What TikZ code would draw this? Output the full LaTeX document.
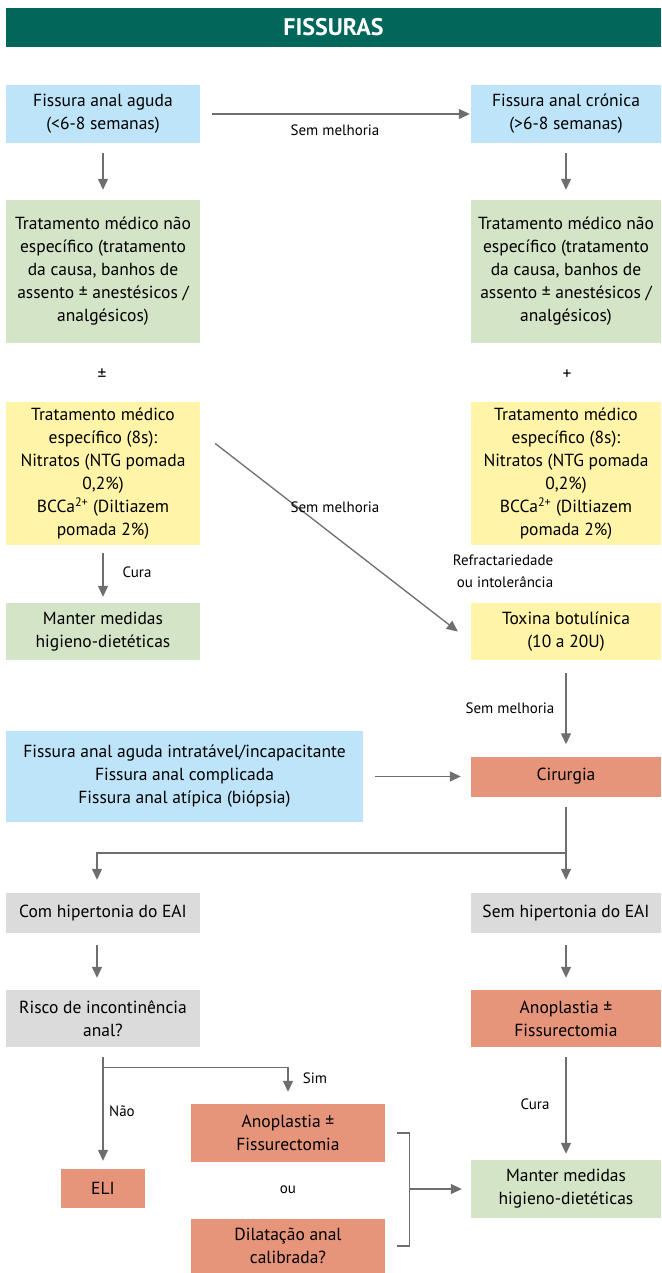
\documentclass[tikz,border=0pt]{standalone}
\usepackage{fontspec}
\setmainfont{PT Sans}
\usetikzlibrary{arrows.meta}
\definecolor{cteal}{HTML}{01675A}
\definecolor{cblue}{HTML}{BDE4F8}
\definecolor{cgreen}{HTML}{D4E4C6}
\definecolor{cyellow}{HTML}{FFF4A8}
\definecolor{csalmon}{HTML}{E6957A}
\definecolor{cgray}{HTML}{DBDBDB}
\definecolor{carrow}{HTML}{6E6E6E}
\begin{document}
\begin{tikzpicture}[x=1pt,y=-1pt,
  box/.style={rectangle, inner sep=0pt, align=center, font=\fontsize{17.5}{23}\selectfont, text=black},
  lbl/.style={inner sep=0pt, align=center, font=\fontsize{15}{22}\selectfont, text=black},
  arr/.style={draw=carrow, line width=1.3pt, -{Triangle[length=11pt,width=10pt]}},
  ln/.style={draw=carrow, line width=1.3pt}]
\useasboundingbox (0,0) rectangle (661,1273);
\fill[white] (0,0) rectangle (661,1273);

\node[rectangle, fill=cteal, minimum width=655pt, minimum height=39pt, inner sep=0pt,
  text=white, font=\bfseries\fontsize{24}{28}\selectfont] (title) at (333.5,27.5) {FISSURAS};

\node[box, fill=cblue, minimum width=194pt, minimum height=58pt] (a1) at (103,114) {Fissura anal aguda\\(<6-8 semanas)};
\node[box, fill=cblue, minimum width=190pt, minimum height=58pt] (b1) at (566,114) {Fissura anal crónica\\(>6-8 semanas)};

\node[box, fill=cgreen, minimum width=194pt, minimum height=143pt] (a2) at (103,271.5) {Tratamento médico não\\específico (tratamento\\da causa, banhos de\\assento ± anestésicos /\\analgésicos)};
\node[box, fill=cgreen, minimum width=190pt, minimum height=143pt] (b2) at (566,271.5) {Tratamento médico não\\específico (tratamento\\da causa, banhos de\\assento ± anestésicos /\\analgésicos)};

\node[box] (pm) at (102,375) {±};
\node[box] (plus) at (567,375) {+};

\node[box, fill=cyellow, minimum width=194pt, minimum height=143pt] (a3) at (103,473.5) {Tratamento médico\\específico (8s):\\Nitratos (NTG pomada\\0,2\%)\\BCCa\textsuperscript{2+} (Diltiazem\\pomada 2\%)};
\node[box, fill=cyellow, minimum width=190pt, minimum height=143pt] (b3) at (566,473.5) {Tratamento médico\\específico (8s):\\Nitratos (NTG pomada\\0,2\%)\\BCCa\textsuperscript{2+} (Diltiazem\\pomada 2\%)};

\node[box, fill=cgreen, minimum width=194pt, minimum height=57pt] (a4) at (103,631.5) {Manter medidas\\higieno-dietéticas};
\node[box, fill=cyellow, minimum width=190pt, minimum height=57pt] (b4) at (566,631.5) {Toxina botulínica\\(10 a 20U)};

\node[box, fill=cblue, minimum width=357pt, minimum height=91pt] (big) at (184.5,776.5) {Fissura anal aguda intratável/incapacitante\\Fissura anal complicada\\Fissura anal atípica (biópsia)};
\node[box, fill=csalmon, minimum width=190pt, minimum height=40pt] (cir) at (566,776.5) {Cirurgia};

\node[box, fill=cgray, minimum width=194pt, minimum height=40pt] (com) at (103,913) {Com hipertonia do EAI};
\node[box, fill=cgray, minimum width=190pt, minimum height=40pt] (sem) at (566,913) {Sem hipertonia do EAI};

\node[box, fill=cgray, minimum width=194pt, minimum height=57pt] (ris) at (103,1018.5) {Risco de incontinência\\anal?};
\node[box, fill=csalmon, minimum width=190pt, minimum height=57pt] (anoR) at (566,1018.5) {Anoplastia ±\\Fissurectomia};

\node[box, fill=csalmon, minimum width=84pt, minimum height=39pt] (eli) at (103,1188.5) {ELI};
\node[box, fill=csalmon, minimum width=194pt, minimum height=58pt] (anoL) at (288,1133) {Anoplastia ±\\Fissurectomia};
\node[lbl] (ou) at (288,1190) {ou};
\node[box, fill=csalmon, minimum width=194pt, minimum height=54pt] (dil) at (288,1246) {Dilatação anal\\calibrada?};
\node[box, fill=cgreen, minimum width=190pt, minimum height=58pt] (manR) at (566,1189) {Manter medidas\\higieno-dietéticas};

% connectors
\draw[arr] ([xshift=12pt]a1.east) -- ([xshift=-1pt]b1.west);
\node[lbl] (l1) at (335,130) {Sem melhoria};
\draw[arr] ([yshift=-10pt]a1.south) -- ([yshift=10pt]a2.north);
\draw[arr] ([yshift=-10pt]b1.south) -- ([yshift=10pt]b2.north);
\draw[arr] ([yshift=-8pt]a3.south) -- ([yshift=6pt]a4.north);
\node[lbl] (l2) at (137,572) {Cura};
\draw[arr] ([xshift=15pt,yshift=30pt]a3.east) -- ([xshift=-13pt]b4.west);
\node[lbl] (l3) at (335,507) {Sem melhoria};
\node[lbl, align=right] (l4) at (503,571) {Refractariedade\\ou intolerância};
\draw[arr] ([yshift=-13pt]b4.south) -- ([yshift=12pt]cir.north);
\node[lbl] (l5) at (510,708) {Sem melhoria};
\draw[arr] ([xshift=12pt]big.east) -- ([xshift=-10pt]cir.west);

\coordinate (sp) at (0,853);
\draw[arr] ([yshift=-10pt]cir.south) -- ([yshift=13pt]sem.north);
\draw[arr] (cir.south |- sp) -| ([xshift=-6pt,yshift=13pt]com.north);
\draw[arr] ([xshift=-6pt,yshift=-12pt]com.south) -- ([xshift=-6pt,yshift=12pt]ris.north);
\draw[arr] ([yshift=-12pt]sem.south) -- ([yshift=12pt]anoR.north);

\draw[arr] ([yshift=-10pt]ris.south) -- ([yshift=8pt]eli.north);
\draw[arr] ([yshift=-20pt]ris.south) -| ([yshift=12pt]anoL.north);
\node[lbl] (l6) at (315,1078) {Sim};
\node[lbl] (l7) at (122,1111) {Não};

\draw[ln] ([xshift=12pt]anoL.east) -| ([xshift=24pt]dil.east) -- ([xshift=12pt]dil.east);
\draw[arr] ([xshift=24pt]anoL.east |- manR.west) -- ([xshift=-9pt]manR.west);
\draw[arr] ([yshift=-10pt]anoR.south) -- ([yshift=6pt]manR.north);
\node[lbl] (l8) at (535,1104) {Cura};
\end{tikzpicture}
\end{document}
